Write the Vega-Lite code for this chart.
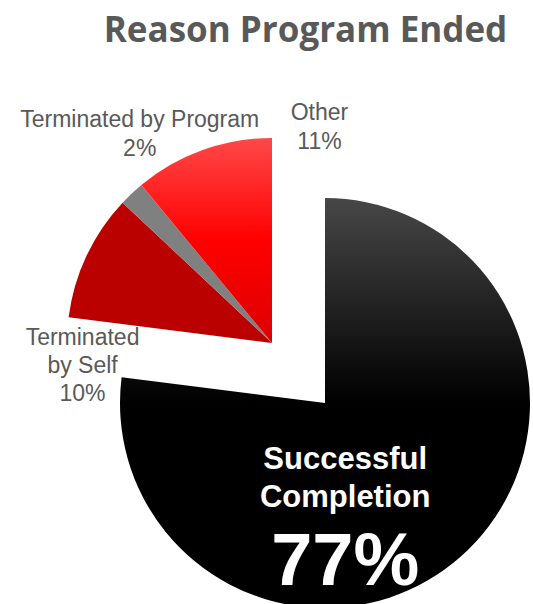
{
  "$schema": "https://vega.github.io/schema/vega-lite/v6.json",
  "autosize": {"type": "none"},
  "padding": {"top": 56, "left": 0, "right": 0, "bottom": 0},
  "width": 533,
  "height": 548,
  "background": "white",
  "config": {"view": {"stroke": null}},
  "title": {
    "text": "Reason Program Ended",
    "font": "Open Sans",
    "fontSize": 35,
    "fontWeight": "bold",
    "color": "#595959",
    "anchor": "middle",
    "dx": 39,
    "dy": -3
  },
  "data": {
    "values": [
      {"ord": 1, "category": "Successful Completion", "value": 77, "label": "Successful\nCompletion", "pct": "77%"},
      {"ord": 2, "category": "Terminated by Self", "value": 10, "label": "Terminated\nby Self\n10%", "pct": "10%"},
      {"ord": 3, "category": "Terminated by Program", "value": 2, "label": "Terminated by Program\n2%", "pct": "2%"},
      {"ord": 4, "category": "Other", "value": 11, "label": "Other\n11%", "pct": "11%"}
    ]
  },
  "transform": [
    {"stack": "value", "groupby": [], "sort": [{"field": "ord", "order": "ascending"}], "as": ["v0", "v1"]}
  ],
  "layer": [
    {
      "transform": [{"filter": "datum.category === 'Successful Completion'"}],
      "mark": {
        "type": "arc", "x": 325, "y": 347, "outerRadius": 205,
        "fill": {"gradient": "linear", "x1": 0, "y1": 0, "x2": 0, "y2": 1,
          "stops": [{"offset": 0, "color": "#474747"}, {"offset": 0.5, "color": "#000000"}, {"offset": 1, "color": "#000000"}]}
      },
      "encoding": {
        "theta": {"field": "v0", "type": "quantitative", "scale": {"domain": [0, 100]}},
        "theta2": {"field": "v1"}
      }
    },
    {
      "transform": [{"filter": "datum.category === 'Terminated by Self'"}],
      "mark": {"type": "arc", "x": 272, "y": 287, "outerRadius": 205, "fill": "#bb0000"},
      "encoding": {
        "theta": {"field": "v0", "type": "quantitative", "scale": {"domain": [0, 100]}},
        "theta2": {"field": "v1"}
      }
    },
    {
      "transform": [{"filter": "datum.category === 'Terminated by Program'"}],
      "mark": {"type": "arc", "x": 272, "y": 287, "outerRadius": 205, "fill": "#808080"},
      "encoding": {
        "theta": {"field": "v0", "type": "quantitative", "scale": {"domain": [0, 100]}},
        "theta2": {"field": "v1"}
      }
    },
    {
      "transform": [{"filter": "datum.category === 'Other'"}],
      "mark": {
        "type": "arc", "x": 272, "y": 287, "outerRadius": 205,
        "fill": {"gradient": "linear", "x1": 0, "y1": 0, "x2": 0, "y2": 1,
          "stops": [{"offset": 0, "color": "#ff4848"}, {"offset": 0.5, "color": "#ff0000"}, {"offset": 1, "color": "#dc0000"}]}
      },
      "encoding": {
        "theta": {"field": "v0", "type": "quantitative", "scale": {"domain": [0, 100]}},
        "theta2": {"field": "v1"}
      }
    },
    {
      "mark": {"type": "text", "x": 325, "y": 347, "radius": 88, "dx": -38, "dy": 0, "align": "center", "baseline": "alphabetic",
        "font": "Liberation Sans", "fontSize": 31, "fontWeight": "bold", "fill": "white", "lineBreak": "\n", "lineHeight": 38},
      "encoding": {
        "theta": {"field": "value", "type": "quantitative", "stack": true},
        "order": {"field": "ord"},
        "text": {"condition": {"test": "datum.category === 'Successful Completion'", "field": "label"}, "value": ""}
      }
    },
    {
      "mark": {"type": "text", "x": 325, "y": 347, "radius": 88, "dx": -38, "dy": 116, "align": "center", "baseline": "alphabetic",
        "font": "Liberation Sans", "fontSize": 74, "fontWeight": "bold", "fill": "white"},
      "encoding": {
        "theta": {"field": "value", "type": "quantitative", "stack": true},
        "order": {"field": "ord"},
        "text": {"condition": {"test": "datum.category === 'Successful Completion'", "field": "pct"}, "value": ""}
      }
    },
    {
      "mark": {"type": "text", "x": 272, "y": 287, "radius": 240, "dx": 32, "dy": -41, "align": "center", "baseline": "alphabetic",
        "font": "Liberation Sans", "fontSize": 23, "fill": "#595959", "lineBreak": "\n", "lineHeight": 28.5},
      "encoding": {
        "theta": {"field": "value", "type": "quantitative", "stack": true},
        "order": {"field": "ord"},
        "text": {"condition": {"test": "datum.category === 'Terminated by Program'", "field": "label"}, "value": ""}
      }
    },
    {
      "mark": {"type": "text", "x": 272, "y": 287, "radius": 220, "dx": 122, "dy": -16, "align": "center", "baseline": "alphabetic",
        "font": "Liberation Sans", "fontSize": 23, "fill": "#595959", "lineBreak": "\n", "lineHeight": 28.5},
      "encoding": {
        "theta": {"field": "value", "type": "quantitative", "stack": true},
        "order": {"field": "ord"},
        "text": {"condition": {"test": "datum.category === 'Other'", "field": "label"}, "value": ""}
      }
    },
    {
      "mark": {"type": "text", "x": 272, "y": 287, "radius": 220, "dx": 9.6, "dy": 95.7, "align": "center", "baseline": "alphabetic",
        "font": "Liberation Sans", "fontSize": 23, "fill": "#595959", "lineBreak": "\n", "lineHeight": 28},
      "encoding": {
        "theta": {"field": "value", "type": "quantitative", "stack": true},
        "order": {"field": "ord"},
        "text": {"condition": {"test": "datum.category === 'Terminated by Self'", "field": "label"}, "value": ""}
      }
    }
  ]
}
